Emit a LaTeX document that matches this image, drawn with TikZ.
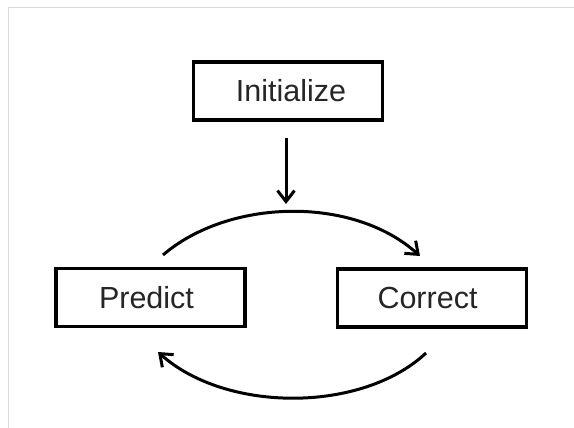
\documentclass[tikz,border=0pt]{standalone}
\usepackage{fontspec}
\setmainfont{Liberation Sans}
\usetikzlibrary{arrows.meta}
\begin{document}
\begin{tikzpicture}[x=1pt,y=-1pt,
  box/.style={draw=black, line width=3.2pt, minimum width=189pt, minimum height=58pt, inner sep=0pt, font=\fontsize{30.5}{36}\selectfont, text=black!85},
  conn/.style={line width=3pt, -{Straight Barb[length=11pt,width=17pt,line width=3pt]}}]
\useasboundingbox (0,0) rectangle (574,428);
\fill[white] (0,0) rectangle (574,428);
\draw[black!15, line width=1pt] (8,428) -- (8,8) -- (574,8);
\node[box] (init) at (288,91) {\hspace*{6pt}Initialize};
\node[box] (pred) at (150.5,297.5) {\hspace*{-8pt}Predict};
\node[box] (corr) at (432,298) {\hspace*{-9pt}Correct};
\coordinate (a1) at (286,138);
\coordinate (a2) at (286,204);
\coordinate (t1) at (163,255);
\coordinate (t2) at (420,256);
\coordinate (b1) at (426,353);
\coordinate (b2) at (158,352);
\draw[conn] (a1) -- (a2);
\draw[conn] (t1) .. controls (228,199) and (352,195) .. (t2);
\draw[conn] (b1) .. controls (362,413) and (226,413) .. (b2);
\end{tikzpicture}
\end{document}
